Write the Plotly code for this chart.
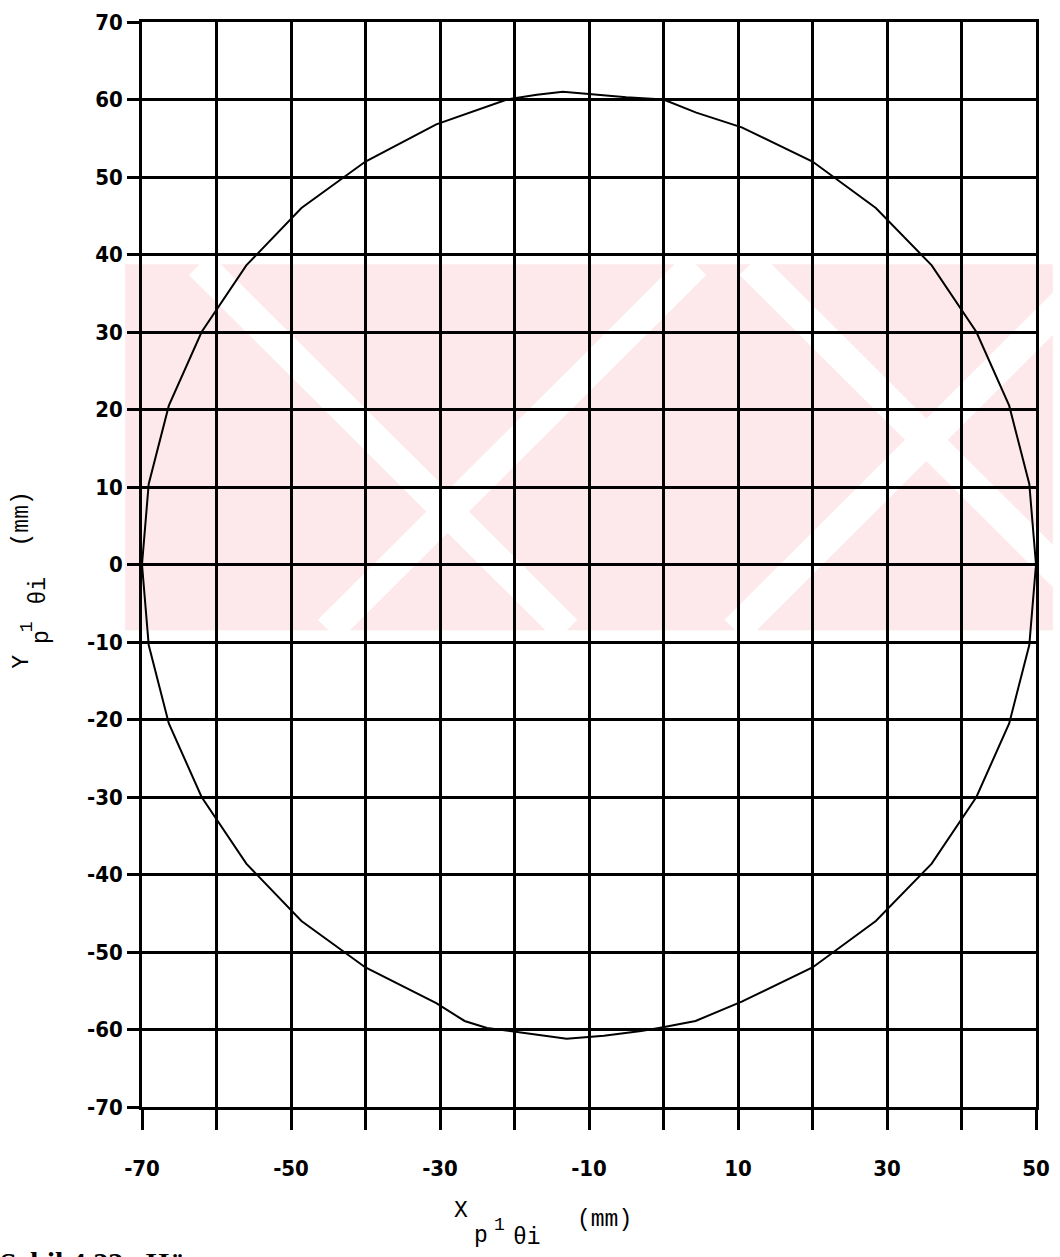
import plotly.graph_objects as go

x_pts = [50.0, 49.1, 46.4, 42.0, 36.0, 28.5, 20.0, 10.5, 4.4, 0.0, -5.0, -10.0, -13.5, -17.0, -21.0,
         -30.5, -40.0, -48.6, -56.0, -62.0, -66.4, -69.1, -70.0,
         -69.1, -66.4, -62.0, -56.0, -48.6, -40.0, -30.5, -26.7, -23.7, -19.0, -13.0, -8.0, -3.0, -0.6,
         4.3, 10.5, 20.0, 28.5, 36.0, 42.0, 46.4, 49.1, 50.0]
y_pts = [0.0, 10.4, 20.5, 30.0, 38.6, 46.0, 52.0, 56.4, 58.3, 60.0, 60.3, 60.7, 61.0, 60.6, 60.0,
         56.8, 52.0, 46.0, 38.6, 30.0, 20.5, 10.4, 0.0,
         -10.4, -20.5, -30.0, -38.6, -46.0, -52.0, -56.6, -58.9, -59.8, -60.4, -61.2, -60.8, -60.2, -59.8,
         -58.9, -56.4, -52.0, -46.0, -38.6, -30.0, -20.5, -10.4, 0.0]

x_tickvals = [-70, -60, -50, -40, -30, -20, -10, 0, 10, 20, 30, 40, 50]
x_ticktext = ["-70", " ", "-50", " ", "-30", " ", "-10", " ", "10", " ", "30", " ", "50"]
y_tickvals = [-70, -60, -50, -40, -30, -20, -10, 0, 10, 20, 30, 40, 50, 60, 70]
y_ticktext = ["-70", "-60", "-50", "-40", "-30", "-20", "-10", "0", "10", "20", "30", "40", "50", "60", "70"]

fig = go.Figure()
fig.add_trace(go.Scatter(x=x_pts, y=y_pts, mode="lines",
                         line=dict(color="black", width=2), showlegend=False))

tick_font = dict(family="DejaVu Sans Condensed, Liberation Sans Narrow, sans-serif",
                 size=22, color="black", weight="bold")

fig.update_layout(
    width=1060, height=1257,
    margin=dict(l=142, r=17, t=10, b=150),
    paper_bgcolor="white", plot_bgcolor="rgba(0,0,0,0)",
    xaxis=dict(range=[-70, 50], tickmode="array", tickvals=x_tickvals, ticktext=x_ticktext,
               showgrid=True, gridcolor="black", gridwidth=2.5, zeroline=False,
               showline=True, linecolor="black", linewidth=2.5, mirror=True,
               ticks="outside", ticklen=20, tickwidth=2.5, tickcolor="black",
               tickfont=tick_font, ticklabelstandoff=20),
    yaxis=dict(range=[-70, 70], tickmode="array", tickvals=y_tickvals, ticktext=y_ticktext,
               showgrid=True, gridcolor="black", gridwidth=2.5, zeroline=False,
               showline=True, linecolor="black", linewidth=2.5, mirror=True,
               ticks="outside", ticklen=12, tickwidth=2.5, tickcolor="black",
               tickfont=tick_font),
)

# helper: pixel -> paper coordinates (plot area: x 142..1043, y 10..1107)
def px(xp):
    return (xp - 142) / 901.0

def py(yp):
    return (1107 - yp) / 1097.0

# faint pink watermark band behind the grid (scan artefact of the source page)
fig.add_shape(type="rect", xref="paper", yref="paper", layer="below",
              x0=px(125), x1=px(1060), y0=py(625), y1=py(255),
              fillcolor="#fde9ec", line=dict(width=0))
for (xa, ya, xb, yb) in [(200, 255, 570, 625), (755, 255, 1125, 625),
                         (700, 255, 330, 625), (1075, 290, 740, 625)]:
    fig.add_shape(type="line", xref="paper", yref="paper", layer="below",
                  x0=px(xa), y0=py(ya), x1=px(xb), y1=py(yb),
                  line=dict(color="white", width=30))

mono = "Liberation Mono, Courier New, monospace"

def label(x, y, text, size, angle=0):
    fig.add_annotation(xref="paper", yref="paper", x=px(x), y=py(y), text=text, showarrow=False,
                       xanchor="center", yanchor="middle", textangle=angle,
                       font=dict(family=mono, size=size, color="black"))

# X axis title: X_{p^1 θi} (mm)
label(463, 1212, "X", 23)
label(484, 1237, "p", 23)
label(502, 1226, "1", 18)
label(530, 1239, "θi", 23)
label(608, 1221, "(mm)", 23)

# Y axis title (rotated): Y_{p^1 θi} (mm)
label(21, 657, "Y", 23, -90)
label(41, 632, "p", 23, -90)
label(26, 621, "1", 18, -90)
label(38, 585, "θi", 23, -90)
label(21, 512, "(mm)", 23, -90)

# Caption, cut off at the bottom edge as in the reference
fig.add_annotation(xref="paper", yref="paper", x=px(-3), y=py(1246), xanchor="left", yanchor="top",
                   text="<b>Şekil 4.23.&nbsp; Hücre</b>", showarrow=False,
                   font=dict(family="Liberation Serif, serif", size=30, color="black"))

fig.write_html("out.html")
